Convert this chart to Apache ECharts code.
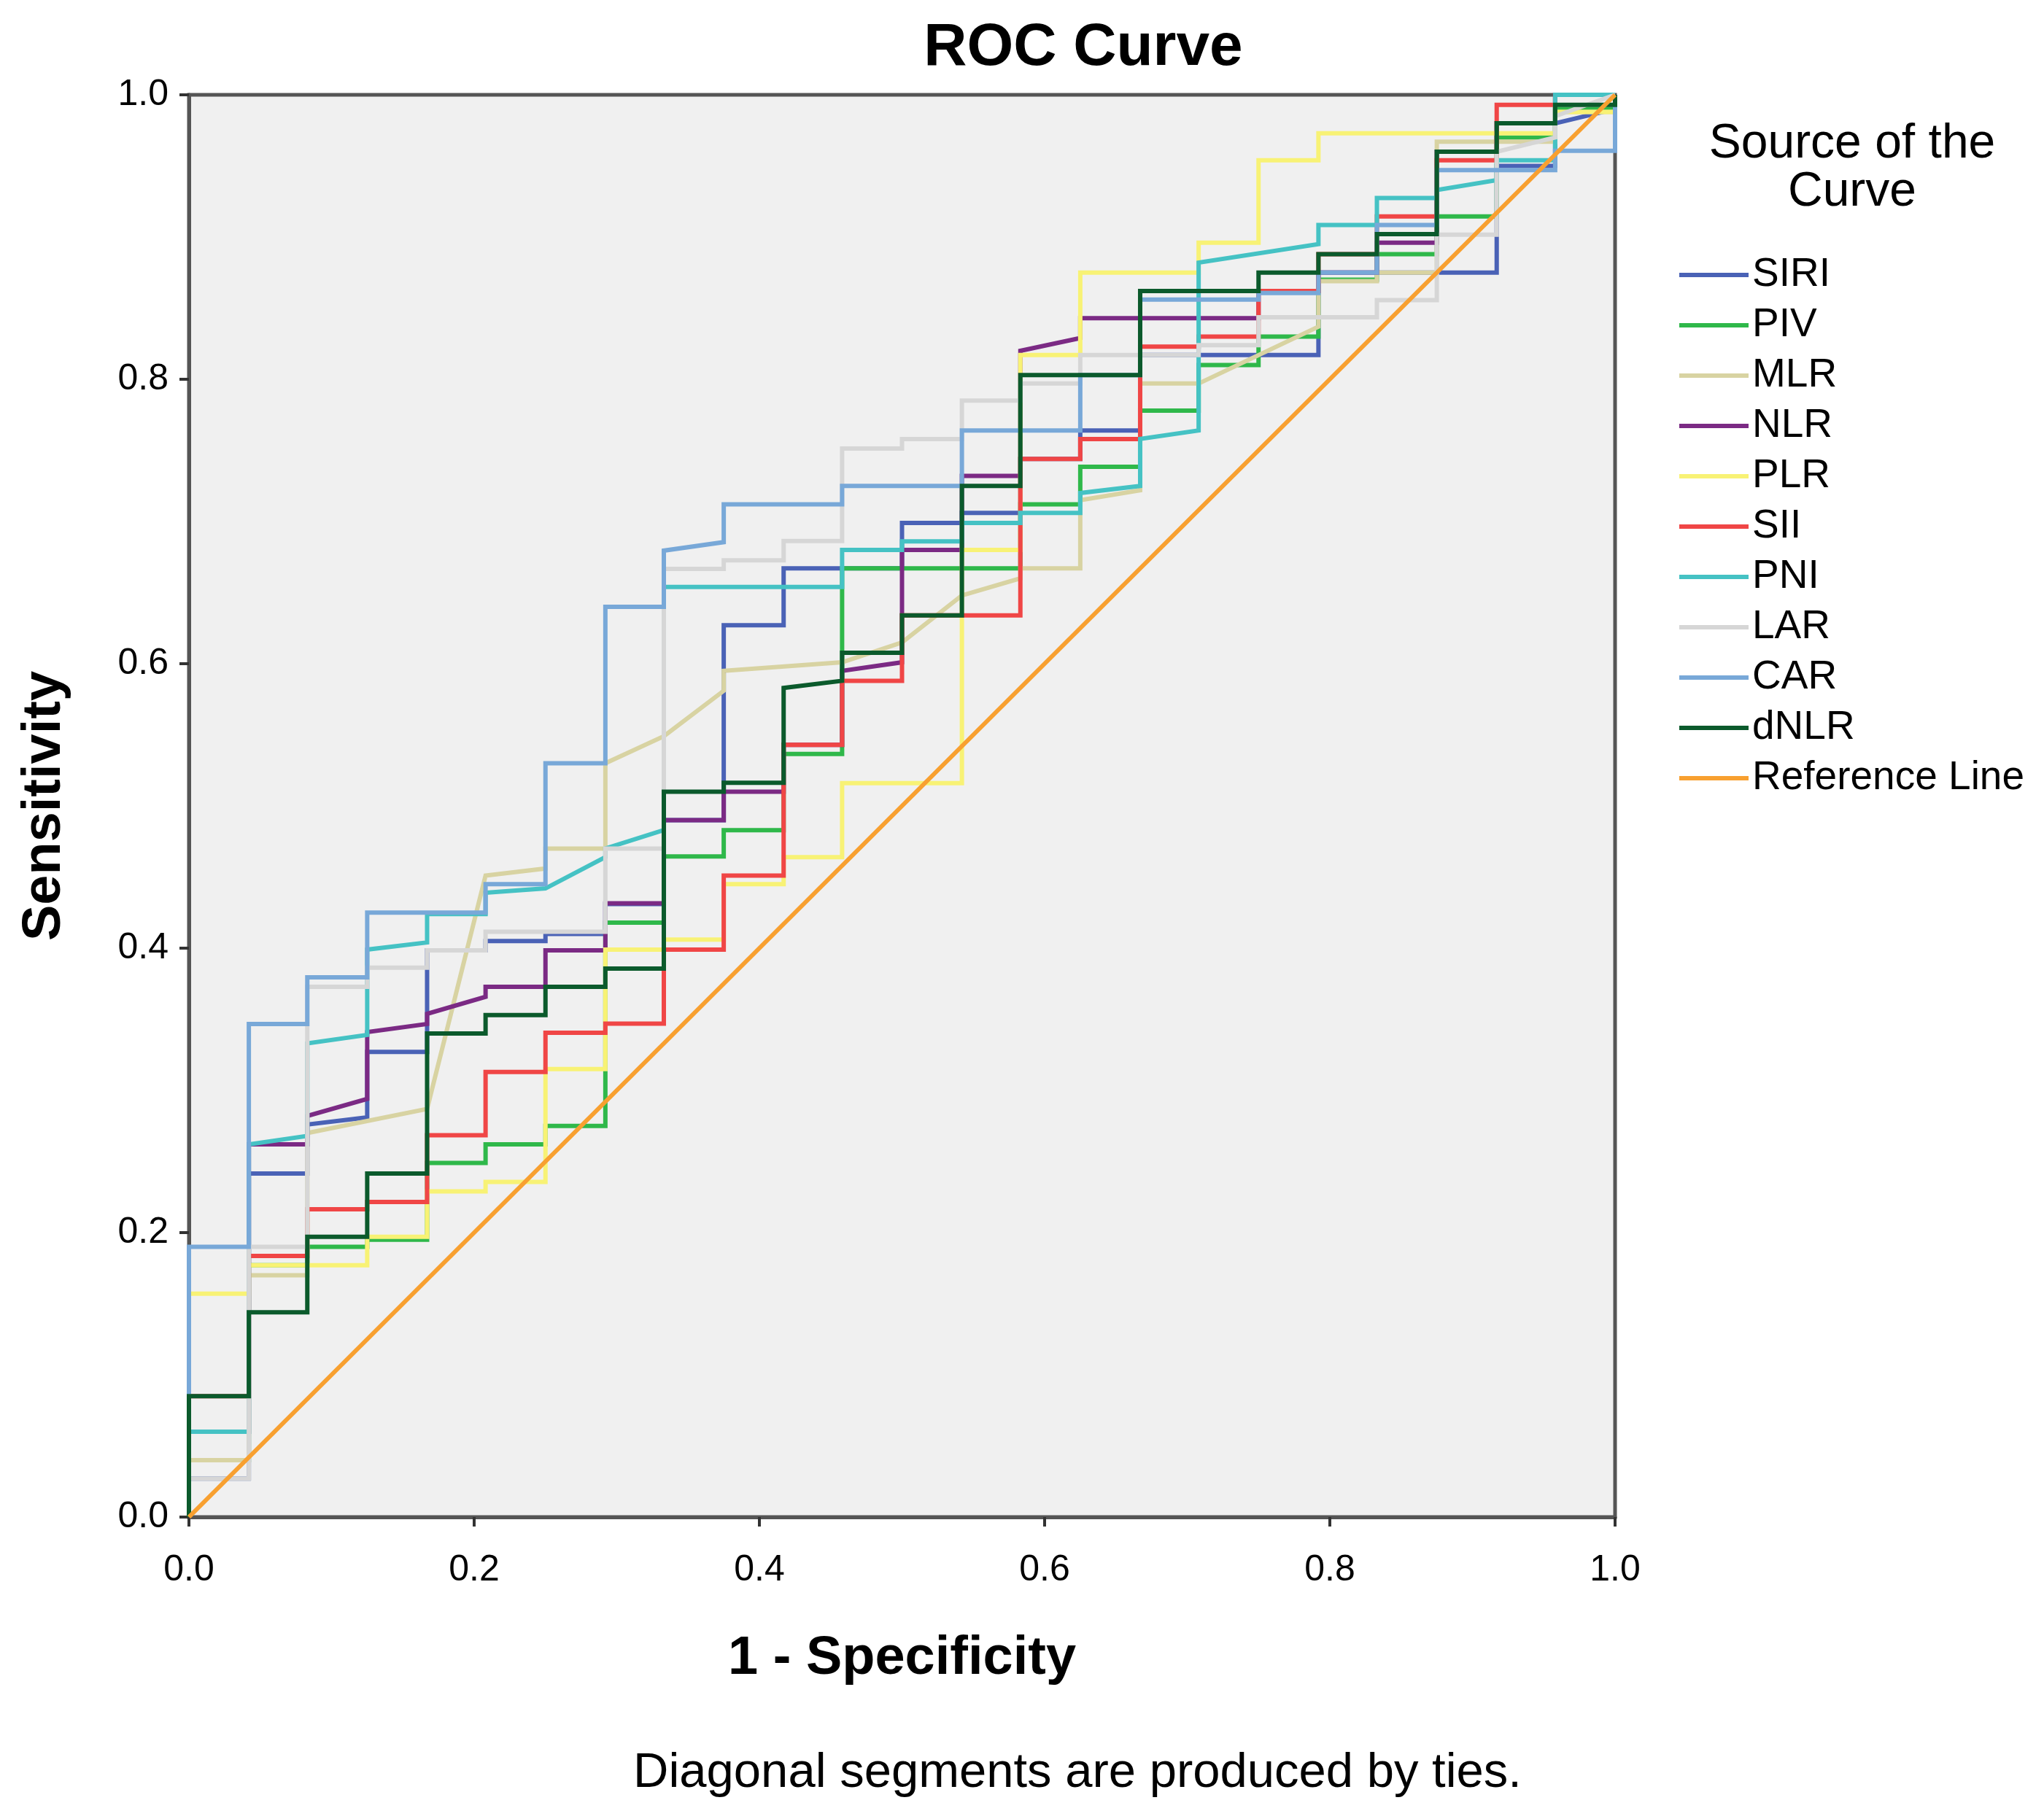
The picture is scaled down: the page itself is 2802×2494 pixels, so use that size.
<!DOCTYPE html>
<html>
<head>
<meta charset="utf-8">
<title>ROC Curve</title>
<script src="https://cdn.jsdelivr.net/npm/echarts@6/dist/echarts.min.js"></script>
<style>
  html, body { margin: 0; padding: 0; background: #fff; }
  #chart { width: 2802px; height: 2494px; }
</style>
</head>
<body>
<div id="chart"></div>
<script>
// curve names, in legend order
var curveNames = ['SIRI', 'PIV', 'MLR', 'NLR', 'PLR', 'SII', 'PNI', 'LAR', 'CAR', 'dNLR', 'Reference Line'];

// points [1 - specificity, sensitivity]
var siri = [[0,0],[0,0.027],[0.042,0.027],[0.042,0.2415],[0.083,0.2415],[0.083,0.276],[0.125,0.281],[0.125,0.327],[0.167,0.327],[0.167,0.3985],[0.208,0.3985],[0.208,0.405],[0.25,0.405],[0.25,0.41],[0.292,0.41],[0.292,0.431],[0.333,0.431],[0.333,0.49],[0.375,0.49],[0.375,0.627],[0.417,0.627],[0.417,0.667],[0.5,0.667],[0.5,0.699],[0.542,0.699],[0.542,0.706],[0.583,0.706],[0.583,0.744],[0.625,0.744],[0.625,0.764],[0.667,0.764],[0.667,0.817],[0.792,0.817],[0.792,0.875],[0.917,0.875],[0.917,0.9],[0.917,0.95],[0.958,0.95],[0.958,0.98],[1,0.99],[1,1]];
var piv = [[0,0],[0,0.04],[0.042,0.04],[0.042,0.177],[0.083,0.177],[0.083,0.19],[0.125,0.19],[0.125,0.195],[0.167,0.195],[0.167,0.249],[0.208,0.249],[0.208,0.262],[0.25,0.262],[0.25,0.275],[0.292,0.275],[0.292,0.418],[0.333,0.418],[0.333,0.4645],[0.375,0.4645],[0.375,0.483],[0.417,0.483],[0.417,0.5365],[0.458,0.5365],[0.458,0.667],[0.583,0.667],[0.583,0.712],[0.625,0.712],[0.625,0.7385],[0.667,0.7385],[0.667,0.778],[0.708,0.778],[0.708,0.81],[0.75,0.81],[0.75,0.83],[0.792,0.83],[0.792,0.87],[0.833,0.87],[0.833,0.888],[0.875,0.888],[0.875,0.9145],[0.917,0.9145],[0.917,0.97],[0.958,0.97],[0.958,0.99],[1,0.99],[1,1]];
var mlr = [[0,0],[0,0.04],[0.042,0.04],[0.042,0.17],[0.083,0.17],[0.083,0.27],[0.167,0.287],[0.208,0.451],[0.25,0.456],[0.25,0.47],[0.292,0.47],[0.292,0.53],[0.333,0.549],[0.375,0.581],[0.375,0.595],[0.458,0.601],[0.5,0.615],[0.542,0.648],[0.583,0.66],[0.583,0.667],[0.625,0.667],[0.625,0.715],[0.667,0.722],[0.667,0.797],[0.708,0.797],[0.792,0.837],[0.792,0.869],[0.833,0.869],[0.833,0.875],[0.875,0.875],[0.875,0.967],[0.958,0.967],[0.958,0.988],[1,0.988],[1,1]];
var nlr = [[0,0],[0,0.06],[0.042,0.06],[0.042,0.262],[0.083,0.262],[0.083,0.282],[0.125,0.294],[0.125,0.341],[0.167,0.3467],[0.167,0.3538],[0.208,0.3658],[0.208,0.3728],[0.25,0.3728],[0.25,0.3984],[0.292,0.3984],[0.292,0.4315],[0.333,0.4315],[0.333,0.49],[0.375,0.49],[0.375,0.51],[0.417,0.51],[0.417,0.543],[0.458,0.543],[0.458,0.595],[0.5,0.601],[0.5,0.68],[0.542,0.68],[0.542,0.732],[0.583,0.732],[0.583,0.82],[0.625,0.829],[0.625,0.843],[0.75,0.843],[0.75,0.862],[0.792,0.862],[0.792,0.875],[0.833,0.875],[0.833,0.896],[0.875,0.896],[0.875,0.96],[0.917,0.96],[0.917,0.98],[0.958,0.98],[0.958,1],[1,1]];
var plr = [[0,0],[0,0.157],[0.042,0.157],[0.042,0.177],[0.125,0.177],[0.125,0.197],[0.167,0.197],[0.167,0.229],[0.208,0.229],[0.208,0.2357],[0.25,0.2357],[0.25,0.315],[0.292,0.315],[0.292,0.399],[0.333,0.399],[0.333,0.406],[0.375,0.406],[0.375,0.445],[0.417,0.445],[0.417,0.464],[0.458,0.464],[0.458,0.516],[0.542,0.516],[0.542,0.68],[0.583,0.68],[0.583,0.817],[0.625,0.817],[0.625,0.875],[0.708,0.875],[0.708,0.896],[0.75,0.896],[0.75,0.954],[0.792,0.954],[0.792,0.973],[0.958,0.973],[0.958,0.988],[1,0.988],[1,1]];
var sii = [[0,0],[0,0.085],[0.042,0.085],[0.042,0.1836],[0.083,0.1836],[0.083,0.2164],[0.125,0.2164],[0.125,0.2216],[0.167,0.2216],[0.167,0.2685],[0.208,0.2685],[0.208,0.313],[0.25,0.313],[0.25,0.3405],[0.292,0.3405],[0.292,0.3469],[0.333,0.3469],[0.333,0.399],[0.375,0.399],[0.375,0.451],[0.417,0.451],[0.417,0.5429],[0.458,0.5429],[0.458,0.588],[0.5,0.588],[0.5,0.634],[0.583,0.634],[0.583,0.744],[0.625,0.744],[0.625,0.758],[0.667,0.758],[0.667,0.823],[0.708,0.823],[0.708,0.83],[0.75,0.83],[0.75,0.862],[0.792,0.862],[0.792,0.888],[0.833,0.888],[0.833,0.9145],[0.875,0.9145],[0.875,0.954],[0.917,0.954],[0.917,0.993],[0.958,0.993],[0.958,1],[1,1]];
var pni = [[0,0],[0,0.06],[0.042,0.06],[0.042,0.262],[0.083,0.268],[0.083,0.333],[0.125,0.339],[0.125,0.399],[0.167,0.404],[0.167,0.424],[0.208,0.424],[0.208,0.439],[0.25,0.442],[0.292,0.464],[0.292,0.47],[0.333,0.483],[0.333,0.654],[0.458,0.654],[0.458,0.68],[0.5,0.68],[0.5,0.686],[0.542,0.686],[0.542,0.699],[0.583,0.699],[0.583,0.706],[0.625,0.706],[0.625,0.72],[0.667,0.725],[0.667,0.758],[0.708,0.764],[0.708,0.882],[0.792,0.895],[0.792,0.9085],[0.833,0.9085],[0.833,0.9274],[0.875,0.9274],[0.875,0.933],[0.917,0.94],[0.917,0.954],[0.958,0.954],[0.958,1],[1,1]];
var lar = [[0,0],[0,0.027],[0.042,0.027],[0.042,0.19],[0.083,0.19],[0.083,0.3728],[0.125,0.3728],[0.125,0.3863],[0.167,0.3863],[0.167,0.3985],[0.208,0.3985],[0.208,0.4115],[0.292,0.4115],[0.292,0.47],[0.333,0.47],[0.333,0.6667],[0.375,0.6667],[0.375,0.6727],[0.417,0.6727],[0.417,0.6863],[0.458,0.6863],[0.458,0.7513],[0.5,0.7513],[0.5,0.758],[0.542,0.758],[0.542,0.785],[0.583,0.785],[0.583,0.797],[0.625,0.797],[0.625,0.817],[0.708,0.817],[0.708,0.824],[0.75,0.824],[0.75,0.8436],[0.833,0.8436],[0.833,0.8556],[0.875,0.8556],[0.875,0.9017],[0.917,0.9017],[0.917,0.96],[0.958,0.97],[0.958,0.985],[1,1]];
var car = [[0,0],[0,0.19],[0.042,0.19],[0.042,0.3467],[0.083,0.3467],[0.083,0.3795],[0.125,0.3795],[0.125,0.425],[0.208,0.425],[0.208,0.445],[0.25,0.445],[0.25,0.53],[0.292,0.53],[0.292,0.64],[0.333,0.64],[0.333,0.6795],[0.375,0.6855],[0.375,0.712],[0.458,0.712],[0.458,0.725],[0.542,0.725],[0.542,0.764],[0.625,0.764],[0.625,0.803],[0.667,0.803],[0.667,0.856],[0.75,0.856],[0.75,0.8607],[0.792,0.8607],[0.792,0.875],[0.833,0.875],[0.833,0.9085],[0.875,0.9085],[0.875,0.947],[0.958,0.947],[0.958,0.9607],[1,0.9607],[1,1]];
var dnlr = [[0,0],[0,0.085],[0.042,0.085],[0.042,0.144],[0.083,0.144],[0.083,0.197],[0.125,0.197],[0.125,0.2415],[0.167,0.2415],[0.167,0.34],[0.208,0.34],[0.208,0.353],[0.25,0.353],[0.25,0.3728],[0.292,0.3728],[0.292,0.3857],[0.333,0.3857],[0.333,0.51],[0.375,0.51],[0.375,0.5163],[0.417,0.5163],[0.417,0.583],[0.458,0.588],[0.458,0.6077],[0.5,0.6077],[0.5,0.634],[0.542,0.634],[0.542,0.725],[0.583,0.725],[0.583,0.803],[0.667,0.803],[0.667,0.862],[0.75,0.862],[0.75,0.875],[0.792,0.875],[0.792,0.888],[0.833,0.888],[0.833,0.902],[0.875,0.902],[0.875,0.96],[0.917,0.96],[0.917,0.98],[0.958,0.98],[0.958,0.993],[1,0.993],[1,1]];
var refLine = [[0,0],[1,1]];

// tick labels of both axes
var tickLabels = ['0.0', '0.2', '0.4', '0.6', '0.8', '1.0'];

var curveData = [siri, piv, mlr, nlr, plr, sii, pni, lar, car, dnlr, refLine];
var curveColors = ['#4a62b6', '#2fb84a', '#d8d3a2', '#7b2a84', '#f8f275', '#f04646', '#45c2c4',
                   '#d6d6d6', '#78a8d8', '#0b5a2c', '#f8a030'];

var FONT = '"Liberation Sans", Arial, sans-serif';

var chart = echarts.init(document.getElementById('chart'), null, { renderer: 'canvas' });

var series = curveNames.map(function (name, i) {
    return {
        name: name,
        type: 'line',
        data: curveData[i],
        showSymbol: false,
        symbol: 'none',
        silent: true,
        animation: false,
        lineStyle: { color: curveColors[i], width: 6, cap: 'butt', join: 'miter' },
        itemStyle: { color: curveColors[i] },
        z: 2 + i
    };
});

function tickText(v) {
    return tickLabels[Math.round(v * 5)];
}

var option = {
    backgroundColor: '#ffffff',
    animation: false,
    title: {
        text: 'ROC Curve',
        left: 1480,
        top: 20,
        textAlign: 'center',
        textStyle: { fontFamily: FONT, fontSize: 82, fontWeight: 'bold', color: '#000' }
    },
    grid: {
        left: 259, right: 588, top: 130, bottom: 414,
        show: true,
        backgroundColor: '#f0f0f0',
        borderColor: '#555555',
        borderWidth: 5
    },
    legend: {
        orient: 'vertical',
        left: 2297,
        top: 344,
        icon: 'rect',
        itemWidth: 95,
        itemHeight: 6,
        itemGap: 13,
        selectedMode: false,
        data: curveNames,
        textStyle: { fontFamily: FONT, fontSize: 55, color: '#000', lineHeight: 56, padding: [0, 0, 0, 0] }
    },
    xAxis: {
        type: 'value',
        min: 0, max: 1, interval: 0.2,
        name: '1 - Specificity',
        nameLocation: 'middle',
        nameGap: 158,
        nameTextStyle: { fontFamily: FONT, fontSize: 74, fontWeight: 'bold', color: '#000' },
        axisLine: { show: true, lineStyle: { color: '#555555', width: 5 } },
        axisTick: { show: true, inside: false, length: 13, lineStyle: { color: '#333', width: 4 } },
        axisLabel: { margin: 48, fontFamily: FONT, fontSize: 50, color: '#000', formatter: tickText },
        splitLine: { show: false }
    },
    yAxis: {
        type: 'value',
        min: 0, max: 1, interval: 0.2,
        name: 'Sensitivity',
        nameLocation: 'middle',
        nameGap: 160,
        nameTextStyle: { fontFamily: FONT, fontSize: 74, fontWeight: 'bold', color: '#000' },
        axisLine: { show: true, lineStyle: { color: '#555555', width: 5 } },
        axisTick: { show: true, inside: false, length: 13, lineStyle: { color: '#333', width: 4 } },
        axisLabel: { margin: 28, fontFamily: FONT, fontSize: 50, color: '#000', formatter: tickText },
        splitLine: { show: false }
    },
    graphic: [
        {
            type: 'text',
            x: 2539,
            y: 165,
            style: {
                text: 'Source of the\nCurve',
                align: 'center',
                verticalAlign: 'top',
                fontFamily: FONT,
                fontSize: 66,
                lineHeight: 66,
                fill: '#000'
            }
        },
        {
            type: 'text',
            x: 1477,
            y: 2432,
            style: {
                text: 'Diagonal segments are produced by ties.',
                align: 'center',
                verticalAlign: 'middle',
                fontFamily: FONT,
                fontSize: 67,
                fill: '#000'
            }
        }
    ],
    series: series
};

chart.setOption(option);
</script>
</body>
</html>
